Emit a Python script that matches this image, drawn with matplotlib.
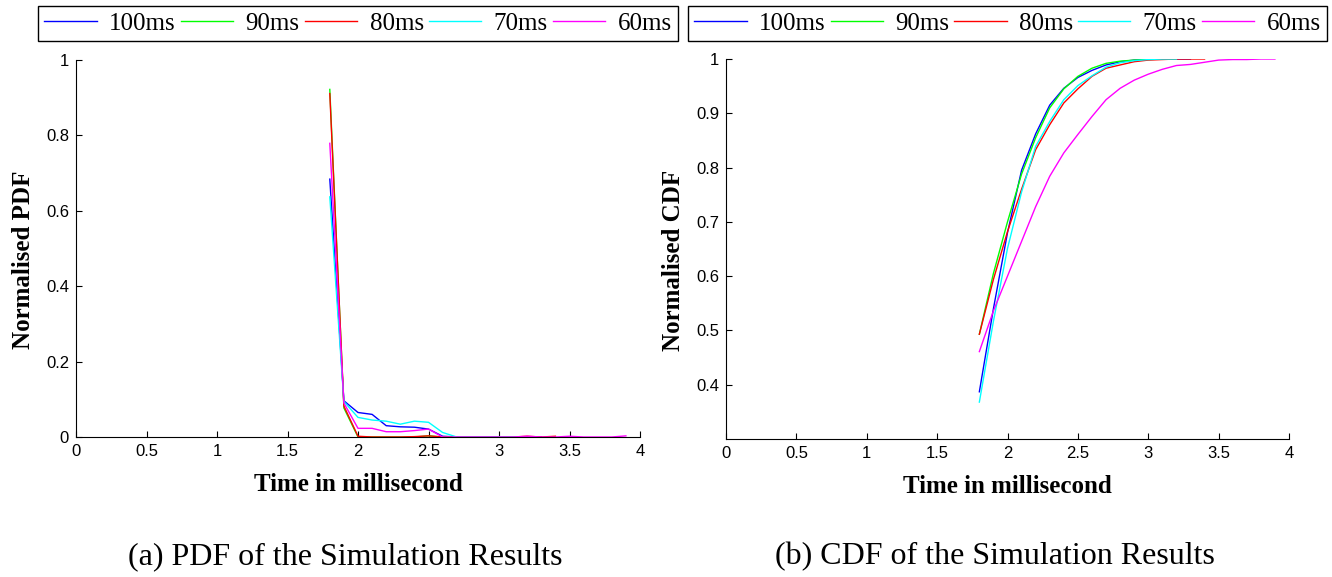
import numpy as np
import matplotlib.pyplot as plt

# time axis (ms), each series uses the first len(values) points
t = [1.8, 1.9, 2.0, 2.1, 2.2, 2.3, 2.4, 2.5, 2.6, 2.7, 2.8,
     2.9, 3.0, 3.1, 3.2, 3.3, 3.4, 3.5, 3.6, 3.7, 3.8, 3.9]

labels = ['100ms', '90ms', '80ms', '70ms', '60ms']
colors = ['#0000ff', '#00ff00', '#ff0000', '#00ffff', '#ff00ff']

# normalised PDF
pdf_100 = [0.684, 0.096, 0.065, 0.060, 0.030, 0.027, 0.026, 0.021, 0.002, 0.0,
           0.0, 0.0, 0.0, 0.0, 0.0, 0.0]
pdf_90 = [0.922, 0.077, 0.0, 0.0, 0.0, 0.0, 0.0, 0.003, 0.0, 0.0, 0.0, 0.0,
          0.0, 0.0, 0.0]
pdf_80 = [0.911, 0.082, 0.002, 0.0, 0.0, 0.0, 0.001, 0.003, 0.0, 0.0, 0.0,
          0.0, 0.0, 0.0, 0.002, 0.0, 0.002]
pdf_70 = [0.637, 0.094, 0.052, 0.045, 0.042, 0.034, 0.042, 0.039, 0.012, 0.0,
          0.0, 0.0, 0.0, 0.0, 0.0]
pdf_60 = [0.779, 0.090, 0.023, 0.023, 0.014, 0.014, 0.017, 0.021, 0.0, 0.0,
          0.0, 0.0, 0.0, 0.0, 0.002, 0.0, 0.0, 0.002, 0.0, 0.0, 0.0, 0.003]

# normalised CDF
cdf_100 = [0.387, 0.540, 0.680, 0.795, 0.862, 0.915, 0.946, 0.966, 0.979,
           0.989, 0.995, 0.998, 1.0, 1.0, 1.0, 1.0]
cdf_90 = [0.493, 0.605, 0.700, 0.788, 0.855, 0.910, 0.945, 0.968, 0.983,
          0.992, 0.996, 0.998, 0.999, 1.0, 1.0]
cdf_80 = [0.493, 0.594, 0.682, 0.760, 0.833, 0.879, 0.919, 0.945, 0.968,
          0.983, 0.989, 0.995, 0.998, 0.999, 1.0, 1.0, 1.0]
cdf_70 = [0.368, 0.517, 0.651, 0.755, 0.839, 0.885, 0.925, 0.951, 0.969,
          0.985, 0.993, 0.997, 0.999, 1.0, 1.0]
cdf_60 = [0.461, 0.536, 0.600, 0.664, 0.728, 0.784, 0.827, 0.861, 0.894,
          0.925, 0.946, 0.961, 0.972, 0.981, 0.988, 0.990, 0.994, 0.998,
          0.999, 0.999, 1.0, 1.0]

pdfs = [pdf_100, pdf_90, pdf_80, pdf_70, pdf_60]
cdfs = [cdf_100, cdf_90, cdf_80, cdf_70, cdf_60]

serif = 'Liberation Serif'
sans = 'Liberation Sans'

W, H = 1332, 577
fig = plt.figure(figsize=(W / 100, H / 100), dpi=100)

ax1 = fig.add_axes([76 / W, 1 - 437 / H, 564 / W, 377 / H])
ax2 = fig.add_axes([726 / W, 1 - 439 / H, 563 / W, 380 / H])


def style(ax, yticks, ylim, ylabel):
    ax.set_xlim(0, 4)
    ax.set_ylim(*ylim)
    xt = [0, 0.5, 1, 1.5, 2, 2.5, 3, 3.5, 4]
    ax.set_xticks(xt)
    ax.set_xticklabels(['{:g}'.format(v) for v in xt], family=sans, fontsize=12)
    ax.set_yticks(yticks)
    ax.set_yticklabels(['{:g}'.format(v) for v in yticks], family=sans, fontsize=12)
    ax.tick_params(direction='in', length=4, width=0.8, pad=5)
    ax.spines['top'].set_visible(False)
    ax.spines['right'].set_visible(False)
    ax.set_xlabel('Time in millisecond', family=serif, fontweight='bold', fontsize=18)
    ax.set_ylabel(ylabel, family=serif, fontweight='bold', fontsize=18)
    ax.xaxis.set_label_coords(0.5, -0.096)
    ax.yaxis.set_label_coords(-0.072, 0.47)


for vals, c, lab in zip(pdfs, colors, labels):
    ax1.plot(t[:len(vals)], vals, color=c, lw=1.0, label=lab)
for vals, c, lab in zip(cdfs, colors, labels):
    ax2.plot(t[:len(vals)], vals, color=c, lw=1.0, label=lab)

style(ax1, [0, 0.2, 0.4, 0.6, 0.8, 1], (0, 1), 'Normalised PDF')
style(ax2, [0.4, 0.5, 0.6, 0.7, 0.8, 0.9, 1], (0.3, 1), 'Normalised CDF')

for ax, x0, x1 in [(ax1, 38, 678), (ax2, 688, 1327)]:
    leg = ax.legend(loc='center', ncol=5, mode='expand',
                    bbox_to_anchor=(x0 / W, 1 - 42 / H, (x1 - x0) / W, 37 / H),
                    bbox_transform=fig.transFigure, borderaxespad=0,
                    prop={'family': serif, 'size': 18}, handlelength=2.1,
                    handletextpad=0.5, fancybox=False, framealpha=1,
                    edgecolor='k', borderpad=0.25)
    leg.get_frame().set_linewidth(1.0)

fig.text(345 / W, 1 - 557 / H, '(a) PDF of the Simulation Results',
         ha='center', va='center', family=serif, fontsize=23)
fig.text(995 / W, 1 - 557 / H, '(b) CDF of the Simulation Results',
         ha='center', va='center', family=serif, fontsize=23)

fig.savefig('out.png', dpi=100)
